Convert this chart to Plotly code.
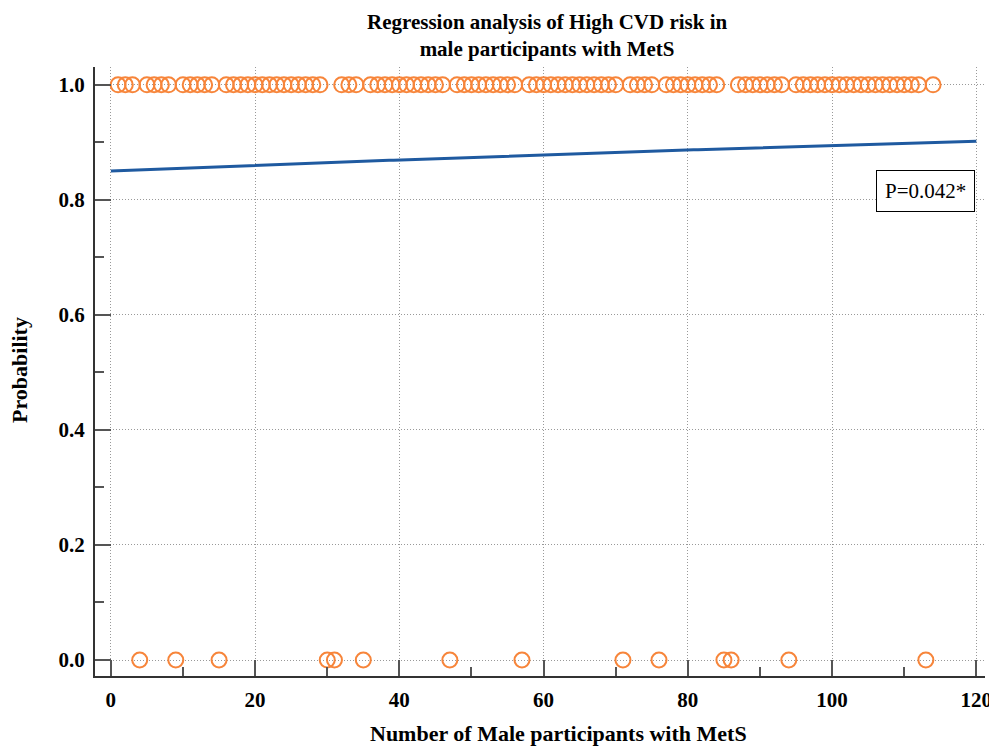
import numpy as np
import plotly.graph_objects as go

# Participants numbered 1..114; outcome 0 for these participants, 1 otherwise
participant_ids = list(range(1, 115))
zero_ids = [4, 9, 15, 30, 31, 35, 47, 57, 71, 76, 85, 86, 94, 113]
outcome = [0 if i in zero_ids else 1 for i in participant_ids]

# Fitted logistic regression coefficients
intercept = 1.7346
slope = 0.004024
p_label = "P=0.042*"

x_tick_vals = [0, 20, 40, 60, 80, 100, 120]
y_tick_vals = [0.0, 0.2, 0.4, 0.6, 0.8, 1.0]

xs = np.linspace(0, 120, 200)
ps = 1 / (1 + np.exp(-(intercept + slope * xs)))

orange = "#F7853A"
blue = "#1F5AA0"
serif = "Liberation Serif, Times New Roman, serif"

# page has an 8px body margin -> figure is 989x738
W, H = 989, 738
L, R, T, B = 87, 12, 59, 70
PW, PH = W - L - R, H - T - B

fig = go.Figure()
fig.add_trace(go.Scatter(x=xs, y=ps, mode="lines",
                         line=dict(color=blue, width=3), hoverinfo="skip"))
fig.add_trace(go.Scatter(x=participant_ids, y=outcome, mode="markers",
                         marker=dict(symbol="circle-open", size=15,
                                     color=orange, line=dict(width=2, color=orange))))

fig.add_annotation(x=(967 - L) / PW, y=0.816, xref="x domain", yref="y", xanchor="right",
                   yanchor="middle", text=p_label, showarrow=False,
                   font=dict(family=serif, size=21, color="black"),
                   bordercolor="black", borderwidth=1, borderpad=8,
                   bgcolor="white")

# title
fig.add_annotation(x=(539 - L) / PW, y=1 + (T - 28) / PH, xref="paper", yref="paper",
                   xanchor="center", yanchor="middle", showarrow=False,
                   text="<b>Regression analysis of High CVD risk in<br>male participants with MetS</b>",
                   font=dict(family=serif, size=21, color="black"))
# x-axis title
fig.add_annotation(x=(550 - L) / PW, y=-(725 - (H - B)) / PH, xref="paper", yref="paper",
                   xanchor="center", yanchor="middle", showarrow=False,
                   text="<b>Number of Male participants with MetS</b>",
                   font=dict(family=serif, size=22, color="black"))
# y-axis title
fig.add_annotation(x=(12 - L) / PW, y=((H - B) - 362) / PH, xref="paper", yref="paper",
                   xanchor="center", yanchor="middle", showarrow=False, textangle=-90,
                   text="<b>Probability</b>",
                   font=dict(family=serif, size=22, color="black"))

fig.update_layout(
    width=W, height=H,
    margin=dict(l=L, r=R, t=T, b=B, autoexpand=False),
    paper_bgcolor="white", plot_bgcolor="white",
    showlegend=False,
    font=dict(family=serif, color="black"),
)

axis_common = dict(
    showline=True, linecolor="#333", linewidth=2,
    ticks="inside", ticklen=16, tickwidth=2, tickcolor="#555",
    showgrid=True, gridcolor="#999", griddash="1px,2px", gridwidth=1,
    zeroline=False, automargin=False,
    tickfont=dict(family=serif, size=21, color="black"),
)

fig.update_xaxes(**axis_common, range=[-2.2, 121.2], tickvals=x_tick_vals,
                 ticktext=[f"<b>{v}</b>" for v in x_tick_vals],
                 ticklabelstandoff=4,
                 minor=dict(ticks="inside", ticklen=9, tickwidth=2, tickcolor="#555",
                            dtick=10, showgrid=False))
fig.update_yaxes(**axis_common, range=[-0.0278, 1.031], tickvals=y_tick_vals,
                 ticktext=[f"<b>{v:.1f}</b>" for v in y_tick_vals],
                 ticklabelstandoff=4,
                 minor=dict(ticks="inside", ticklen=9, tickwidth=2, tickcolor="#555",
                            dtick=0.1, showgrid=False))

fig.write_html("out.html")
